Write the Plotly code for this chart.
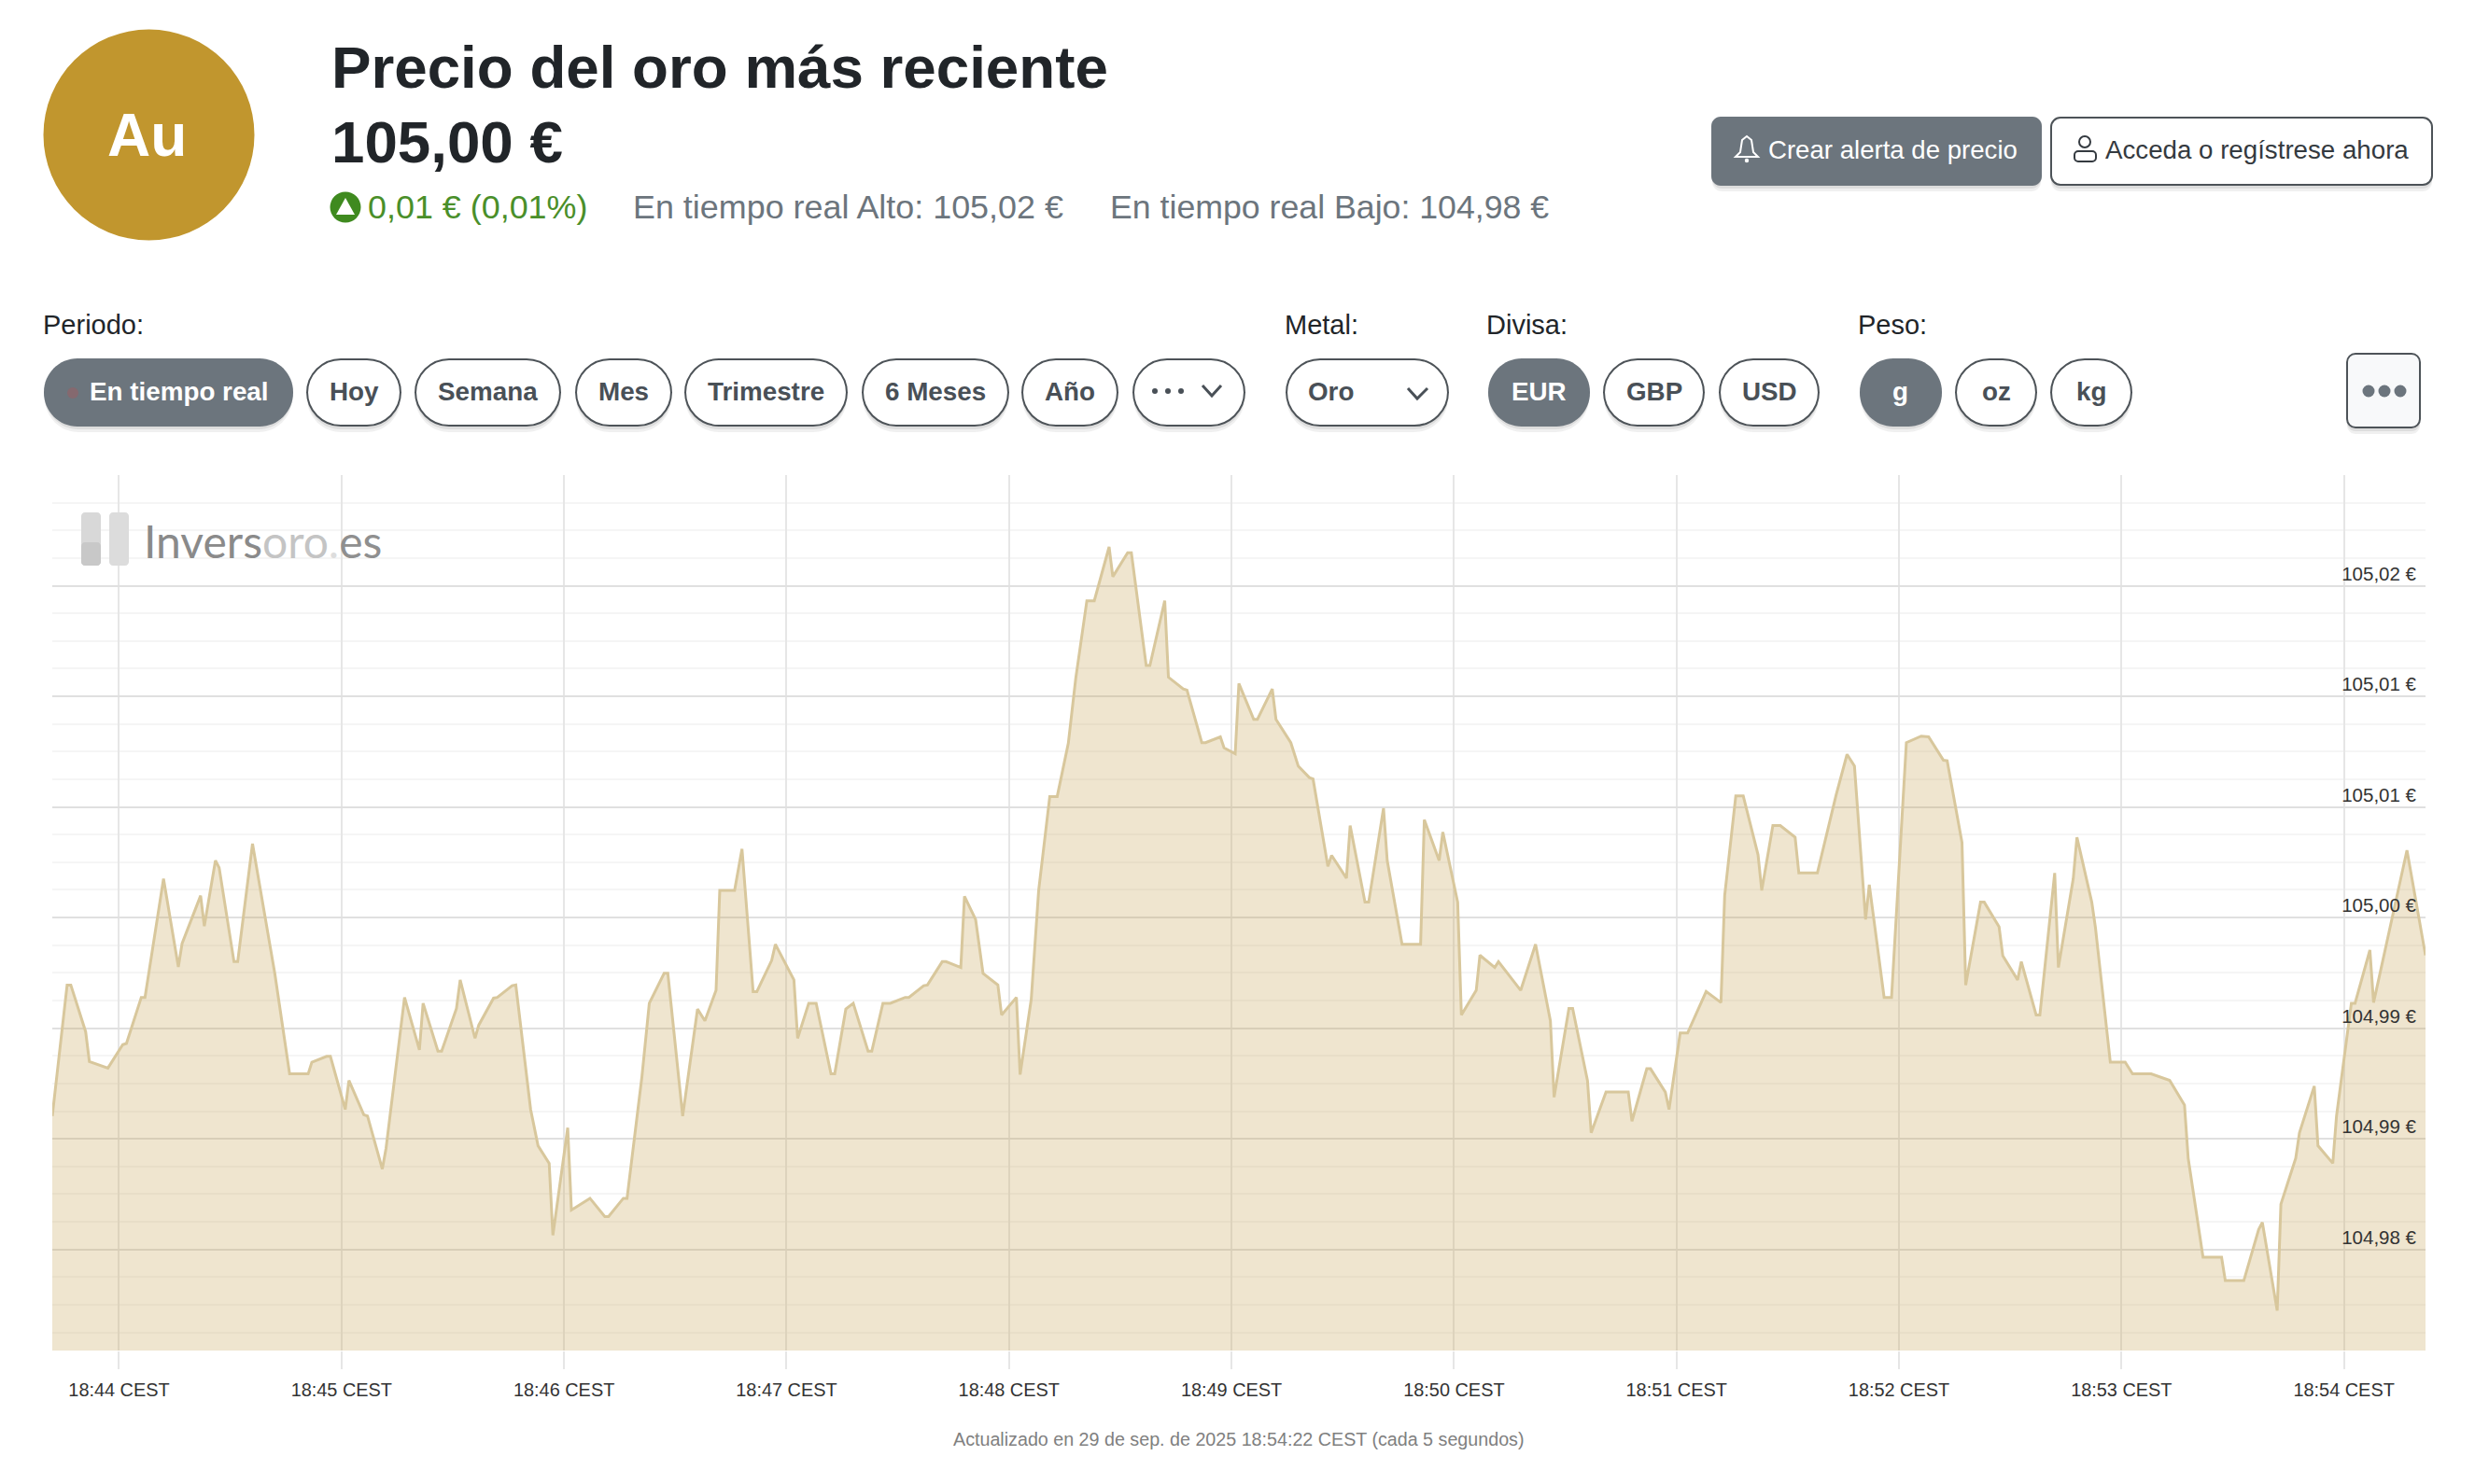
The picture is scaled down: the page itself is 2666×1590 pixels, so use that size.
import pandas as pd
import plotly.graph_objects as go

W, H = 2666, 1590

# seconds relative to 18:44:00 CEST, 29 Sep 2025 (rows of ten, aligned with price)
seconds = [
    -18, -14, -13, -9, -8, -4, -3, 1, 2, 6,
    7, 12, 16, 17, 22, 23, 26, 27, 31, 32,
    36, 42, 46, 51, 52, 56, 57, 61, 62, 66,
    67, 71, 72, 77, 81, 82, 86, 87, 91, 92,
    96, 97, 101, 102, 106, 107, 111, 113, 116, 117,
    121, 122, 127, 131, 132, 136, 137, 141, 143, 147,
    148, 152, 156, 158, 161, 162, 166, 168, 171, 172,
    176, 177, 182, 183, 186, 188, 192, 193, 196, 198,
    202, 203, 206, 208, 212, 213, 217, 218, 222, 223,
    227, 228, 231, 233, 237, 238, 242, 243, 246, 248,
    251, 253, 256, 258, 261, 263, 267, 268, 272, 273,
    277, 278, 282, 283, 287, 288, 292, 293, 297, 298,
    301, 302, 306, 307, 311, 312, 316, 318, 321, 322,
    326, 327, 331, 332, 336, 337, 341, 342, 346, 351,
    352, 356, 357, 361, 362, 366, 367, 371, 372, 378,
    382, 386, 387, 391, 392, 396, 397, 401, 407, 408,
    412, 413, 417, 418, 421, 423, 426, 428, 432, 433,
    436, 438, 442, 443, 446, 448, 452, 453, 458, 461,
    463, 466, 468, 471, 472, 476, 478, 482, 486, 488,
    492, 493, 497, 498, 502, 503, 507, 508, 512, 513,
    517, 518, 522, 523, 527, 528, 532, 533, 537, 541,
    543, 548, 553, 557, 558, 562, 567, 568, 573, 577,
    578, 582, 583, 587, 588, 592, 593, 597, 598, 602,
    603, 607, 608, 617, 622,
]
price = [
    104.98879, 104.99619, 104.99619, 104.99355, 104.99187, 104.99154, 104.99150, 104.99282, 104.99289, 104.99549,
    104.99549, 105.00219, 104.99721, 104.99853, 105.00124, 104.99952, 105.00322, 105.00282, 104.99751, 104.99751,
    105.00417, 104.99685, 104.99117, 104.99117, 104.99183, 104.99216, 104.99216, 104.98916, 104.99080, 104.98886,
    104.98879, 104.98579, 104.98696, 104.99549, 104.99253, 104.99516, 104.99245, 104.99245, 104.99487, 104.99648,
    104.99318, 104.99392, 104.99545, 104.99549, 104.99615, 104.99619, 104.98916, 104.98711, 104.98612, 104.98205,
    104.98813, 104.98348, 104.98414, 104.98311, 104.98311, 104.98414, 104.98414, 104.99099, 104.99516, 104.99685,
    104.99685, 104.98879, 104.99483, 104.99417, 104.99589, 105.00153, 105.00153, 105.00388, 104.99582, 104.99582,
    104.99758, 104.99849, 104.99648, 104.99318, 104.99516, 104.99516, 104.99117, 104.99117, 104.99483, 104.99516,
    104.99245, 104.99245, 104.99516, 104.99516, 104.99549, 104.99549, 104.99615, 104.99619, 104.99751, 104.99751,
    104.99718, 105.00120, 104.99989, 104.99685, 104.99619, 104.99450, 104.99549, 104.99113, 104.99538, 105.00153,
    105.00684, 105.00684, 105.00985, 105.01351, 105.01790, 105.01790, 105.02094, 105.01926, 105.02061, 105.02061,
    105.01424, 105.01424, 105.01790, 105.01358, 105.01292, 105.01285, 105.00988, 105.00988, 105.01021, 105.00959,
    105.00926, 105.01322, 105.01120, 105.01120, 105.01292, 105.01120, 105.00988, 105.00856, 105.00791, 105.00783,
    105.00289, 105.00351, 105.00223, 105.00520, 105.00087, 105.00087, 105.00618, 105.00322, 104.99849, 104.99849,
    105.00553, 105.00322, 105.00483, 105.00087, 104.99450, 104.99589, 104.99787, 104.99718, 104.99751, 104.99589,
    104.99849, 104.99417, 104.98985, 104.99487, 104.99487, 104.99080, 104.98784, 104.99014, 104.99014, 104.98850,
    104.99146, 104.99146, 104.99014, 104.98916, 104.99348, 104.99348, 104.99483, 104.99582, 104.99520, 105.00124,
    105.00688, 105.00688, 105.00355, 105.00153, 105.00520, 105.00520, 105.00454, 105.00252, 105.00252, 105.00520,
    105.00688, 105.00922, 105.00856, 104.99989, 105.00186, 104.99549, 104.99549, 105.00988, 105.01025, 105.01021,
    105.00889, 105.00886, 105.00424, 104.99619, 105.00087, 105.00087, 104.99948, 104.99784, 104.99648, 104.99751,
    104.99450, 104.99450, 105.00252, 104.99718, 105.00219, 105.00454, 105.00087, 104.99941, 104.99183, 104.99183,
    104.99117, 104.99117, 104.99080, 104.98941, 104.98641, 104.98081, 104.98081, 104.97949, 104.97949, 104.98238,
    104.98278, 104.97780, 104.98381, 104.98641, 104.98784, 104.99048, 104.98711, 104.98612, 104.98879, 104.99516,
    104.99516, 104.99817, 104.99520, 105.00380, 104.99787,
]

tick_values = [105.025, 105.01875, 105.0125, 105.00625, 105.0, 104.99375, 104.9875, 104.98125]
tick_labels = ["", "105,02 €", "105,01 €", "105,01 €", "105,00 €", "104,99 €", "104,99 €", "104,98 €"]

title_text = "Precio del oro más reciente"
price_text = "105,00 €"
change_text = "0,01 € (0,01%)"
high_text = "En tiempo real Alto: 105,02 €"
low_text = "En tiempo real Bajo: 104,98 €"
footer_text = "Actualizado en 29 de sep. de 2025 18:54:22 CEST (cada 5 segundos)"

base = pd.Timestamp("2025-09-29 18:44:00")
times = [base + pd.Timedelta(seconds=s) for s in seconds]

FONT = "Liberation Sans"
GREY = "#6c757d"


def fx(x):
    return x / W


def fy(y):
    return 1 - y / H


shapes = []
annotations = []


def text(x, y, s, size, color="#212529", bold=False, anchor="left", family=FONT):
    annotations.append(dict(
        xref="paper", yref="paper", x=fx(x), y=fy(y), text=f"<b>{s}</b>" if bold else s,
        showarrow=False, xanchor=anchor, yanchor="middle", align=anchor,
        font=dict(size=size, color=color, family=family), borderpad=0, borderwidth=0,
    ))


def round_rect(x0, y0, x1, y1, r):
    p = [
        f"M{fx(x0 + r)},{fy(y0)}", f"L{fx(x1 - r)},{fy(y0)}",
        f"C{fx(x1 - .45 * r)},{fy(y0)} {fx(x1)},{fy(y0 + .45 * r)} {fx(x1)},{fy(y0 + r)}",
        f"L{fx(x1)},{fy(y1 - r)}",
        f"C{fx(x1)},{fy(y1 - .45 * r)} {fx(x1 - .45 * r)},{fy(y1)} {fx(x1 - r)},{fy(y1)}",
        f"L{fx(x0 + r)},{fy(y1)}",
        f"C{fx(x0 + .45 * r)},{fy(y1)} {fx(x0)},{fy(y1 - .45 * r)} {fx(x0)},{fy(y1 - r)}",
        f"L{fx(x0)},{fy(y0 + r)}",
        f"C{fx(x0)},{fy(y0 + .45 * r)} {fx(x0 + .45 * r)},{fy(y0)} {fx(x0 + r)},{fy(y0)}", "Z",
    ]
    return " ".join(p)


def add_path(path, fill="rgba(0,0,0,0)", line=None, width=0, layer="above"):
    shapes.append(dict(type="path", xref="paper", yref="paper", path=path, fillcolor=fill,
                       line=dict(color=line or "rgba(0,0,0,0)", width=width), layer=layer))


def polyline(points, close=False):
    s = "M" + " L".join(f"{fx(a)},{fy(b)}" for a, b in points)
    return s + (" Z" if close else "")


def circle(cx, cy, r, fill, line=None, width=0):
    shapes.append(dict(type="circle", xref="paper", yref="paper", x0=fx(cx - r), x1=fx(cx + r),
                       y0=fy(cy + r), y1=fy(cy - r), fillcolor=fill,
                       line=dict(color=line or "rgba(0,0,0,0)", width=width), layer="above"))


def button(x0, y0, x1, y1, r, filled=False, bg="white"):
    add_path(round_rect(x0 + 1, y0 + 6, x1 - 1, y1 + 6, r), fill="rgba(0,0,0,0.06)")
    add_path(round_rect(x0 + 1, y0 + 3, x1 - 1, y1 + 3, r), fill="rgba(0,0,0,0.08)")
    if filled:
        add_path(round_rect(x0, y0, x1, y1, r), fill=GREY)
    else:
        add_path(round_rect(x0 + 1, y0 + 1, x1 - 1, y1 - 1, r), fill=bg, line="#4d5358", width=2)


# header
circle(159.5, 144.5, 113, "#c1962e")
text(157, 145, "Au", 64, "white", bold=True, anchor="center")
text(355, 72, title_text, 63.7, "#212529", bold=True)
text(355, 152, price_text, 63.7, "#212529", bold=True)
circle(370, 222, 16.5, "#3f8a1f")
add_path(polyline([(370, 212), (380, 230), (360, 230)], close=True), fill="white")
text(394, 222, change_text, 35.9, "#4a8f2a")
text(678, 222, high_text, 35.9, GREY)
text(1189, 222, low_text, 35.7, GREY)

# top buttons
button(1833, 125, 2187, 199, 10, filled=True)
text(1894, 161, "Crear alerta de precio", 27.6, "white")
button(2196, 125, 2606, 199, 10)
text(2255, 161, "Acceda o regístrese ahora", 27.7, "#343a40")

# bell and person
add_path(polyline([(1871, 146), (1876, 150), (1878, 163), (1883, 168), (1859, 168), (1864, 163), (1866, 150)], close=True),
         line="white", width=2)
circle(1871, 172, 2.2, "white")
circle(2233, 152, 6, "white", "#343a40", 2)
add_path(round_rect(2222, 162, 2245, 173, 4), line="#343a40", width=2)

# selector groups
text(46, 347.5, "Periodo:", 29)
text(1376, 347.5, "Metal:", 29)
text(1592, 347.5, "Divisa:", 29)
text(1990, 347.5, "Peso:", 29)

pills = [
    (47, 314, "En tiempo real", True), (328, 430, "Hoy", False), (444, 601, "Semana", False),
    (616, 720, "Mes", False), (733, 908, "Trimestre", False), (923, 1081, "6 Meses", False),
    (1094, 1198, "Año", False), (1213, 1334, "", False), (1377, 1552, "", False),
    (1594, 1703, "EUR", True), (1717, 1826, "GBP", False), (1841, 1949, "USD", False),
    (1992, 2080, "g", True), (2094, 2182, "oz", False), (2196, 2284, "kg", False),
]
for x0, x1, label, active in pills:
    button(x0, 384, x1, 457, 36, filled=active)
    if label:
        cx = (x0 + x1) / 2 + (12 if label == "En tiempo real" else 0)
        text(cx, 420, label, 27.8, "white" if active else "#495057", bold=True, anchor="center")

circle(78, 421, 6, "#85696f")
for cx in (1237, 1251, 1265):
    circle(cx, 419, 3, "#495057")
add_path(polyline([(1288, 413), (1298, 424), (1308, 413)]), line="#495057", width=3)
text(1401, 420, "Oro", 27.8, "#495057", bold=True)
add_path(polyline([(1508, 416), (1518, 427), (1529, 416)]), line="#495057", width=3)

button(2513, 378, 2593, 459, 9, bg="#f8f9fa")
for cx in (2537, 2554, 2571):
    circle(cx, 419, 6.5, GREY)

# watermark
add_path(round_rect(87, 549, 108, 606, 4), fill="#d8d8d8")
add_path(round_rect(87, 581, 108, 606, 4), fill="#c8c8c8")
add_path(round_rect(117, 549, 138, 606, 4), fill="#dcdcdc")
annotations.append(dict(
    xref="paper", yref="paper", x=fx(152), y=fy(579), showarrow=False, xanchor="left", yanchor="middle",
    text='<span style="color:#8a8a8a">Invers</span><span style="color:#c4c4c4">oro</span>'
         '<span style="color:#dddddd">.</span><span style="color:#8f8f8f">es</span>',
    font=dict(size=48, family="Lato", color="#8a8a8a", weight=400),
))

text(1326, 1542, footer_text, 19.7, "#808080", anchor="center")

fig = go.Figure()
# empty trace on the primary y axis keeps its grid drawn beneath the area
fig.add_trace(go.Scatter(x=times, y=price, mode="none", yaxis="y", hoverinfo="skip"))
fig.add_trace(go.Scatter(
    x=times, y=price, mode="lines", yaxis="y2",
    line=dict(color="#d8c79c", width=3),
    fill="tozeroy", fillcolor="rgba(196,160,82,0.28)", hoverinfo="skip",
))

y_range = [104.97554, 105.025]
y_domain = [fy(1447), fy(509)]

fig.update_layout(
    width=W, height=H, margin=dict(l=0, r=0, t=0, b=0, pad=0), autosize=False,
    paper_bgcolor="white", plot_bgcolor="white", showlegend=False,
    font=dict(family=FONT, color="#333333", size=20),
    shapes=shapes, annotations=annotations,
    xaxis=dict(
        domain=[fx(56), fx(2598)], type="date",
        range=[base + pd.Timedelta(seconds=-18), base + pd.Timedelta(seconds=622)],
        tick0=base, dtick=60000, tickformat="%H:%M CEST",
        showgrid=True, gridcolor="#e6e6e6", gridwidth=2, zeroline=False, showline=False,
        ticks="outside", ticklen=19, tickcolor="#e6e6e6", tickwidth=2,
        tickfont=dict(size=19.9, color="#333333", family=FONT), ticklabelstandoff=5,
    ),
    yaxis=dict(
        domain=y_domain, side="right", range=y_range,
        tickmode="array", tickvals=tick_values, showticklabels=False,
        showgrid=True, gridcolor="#e0e0e0", gridwidth=2, zeroline=False, showline=False,
        ticks="",
        minor=dict(tick0=105.0, dtick=0.0015625, showgrid=True, gridcolor="#f5f5f5", gridwidth=2, ticks=""),
    ),
    yaxis2=dict(
        domain=y_domain, side="left", range=y_range, overlaying="y", anchor="free", position=fx(2588),
        tickmode="array", tickvals=tick_values, ticktext=tick_labels,
        ticklabelposition="outside", ticklabelshift=-13, ticklabelstandoff=0,
        tickfont=dict(size=20.5, color="#333333", family=FONT),
        showgrid=False, zeroline=False, showline=False, ticks="",
    ),
)

fig.write_html("out.html", config=dict(displayModeBar=False),
               post_script="document.body.style.margin='0';")
